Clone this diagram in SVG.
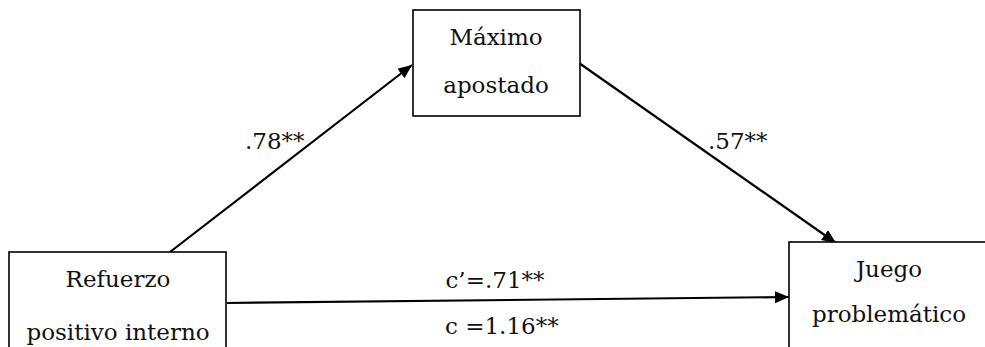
<svg xmlns="http://www.w3.org/2000/svg" width="985" height="347" viewBox="0 0 985 347">
<style>
.box{fill:#fff;stroke:#000;stroke-width:1.6}
.t{font-family:'DejaVu Serif',serif;font-size:23px;fill:#111}
.m{text-anchor:middle}
.c{stroke:#000;stroke-width:2.2;fill:none;marker-end:url(#ah)}
</style>
<defs>
<marker id="ah" markerUnits="userSpaceOnUse" markerWidth="16" markerHeight="14" refX="14" refY="6" orient="auto">
<path d="M0,0 L14,6 L0,12 Z" fill="#000"/>
</marker>
</defs>
<rect width="985" height="347" fill="#fff"/>
<g id="connectors">
<line class="c" x1="170" y1="252" x2="412" y2="65"/>
<line class="c" x1="579" y1="63" x2="836" y2="243"/>
<line class="c" x1="227" y1="303" x2="789" y2="297"/>
</g>
<g id="labels">
<text class="t" x="245" y="149">.78**</text>
<text class="t" x="708" y="149">.57**</text>
<text class="t m" x="495" y="288">c’=.71**</text>
<text class="t" x="445" y="334">c =1.16**</text>
</g>
<g id="node-maximo">
<rect class="box" x="413" y="10" width="167" height="106"/>
<text class="t m" x="496" y="45">Máximo</text>
<text class="t m" x="496" y="93">apostado</text>
</g>
<g id="node-refuerzo">
<rect class="box" x="9" y="252" width="217" height="110"/>
<text class="t m" x="118" y="287">Refuerzo</text>
<text class="t m" x="118" y="340">positivo interno</text>
</g>
<g id="node-juego">
<rect class="box" x="789" y="242" width="210" height="120"/>
<text class="t m" x="889" y="277">Juego</text>
<text class="t m" x="889" y="322">problemático</text>
</g>
</svg>
